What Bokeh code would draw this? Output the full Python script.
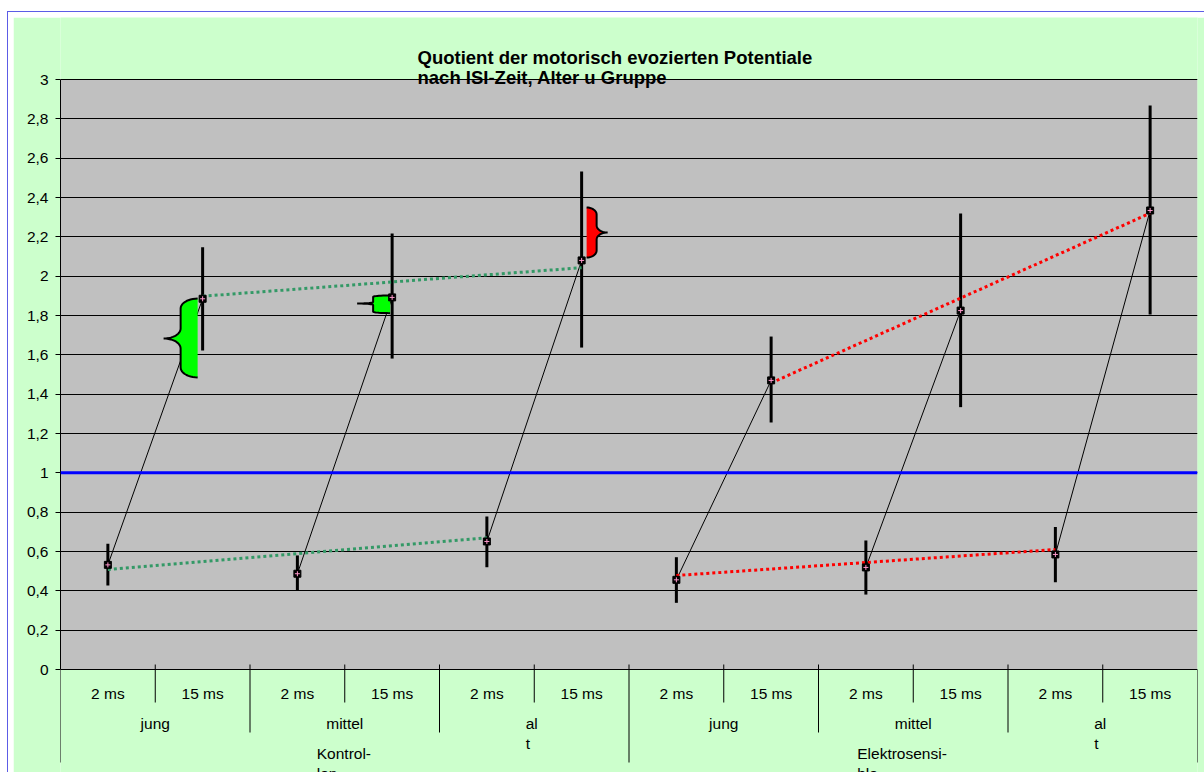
import numpy as np
from bokeh.plotting import figure
from bokeh.models import Range1d, FixedTicker, Span, Label, CustomJSTickFormatter
from bokeh.core.properties import value
from bokeh.embed import file_html
from bokeh.resources import INLINE

# ---------------- data ----------------
groups = ["Kontrollen"] * 6 + ["Elektrosensible"] * 6
ages = ["jung", "jung", "mittel", "mittel", "alt", "alt"] * 2
isi = ["2 ms", "15 ms"] * 6

means = [0.532, 1.885, 0.487, 1.892, 0.651, 2.080,
         0.456, 1.470, 0.519, 1.825, 0.585, 2.334]
err_high = [0.639, 2.147, 0.580, 2.217, 0.778, 2.532,
            0.571, 1.693, 0.656, 2.319, 0.724, 2.868]
err_low = [0.427, 1.622, 0.402, 1.581, 0.520, 1.637,
           0.339, 1.256, 0.381, 1.334, 0.444, 1.805]

# category axis texts (as wrapped in the axis cells)
isi_labels = ["2 ms", "15 ms"] * 6
age_labels = ["jung", "mittel", "al\nt", "jung", "mittel", "al\nt"]
group_labels = ["Kontrol-\nlen", "Elektrosensi-\nble"]

# linear trends per group / ISI (start category, end category, values)
trend_start_cat = [0, 1, 6, 7]
trend_end_cat = [4, 5, 10, 11]
trend_start_val = [0.508, 1.898, 0.478, 1.457]
trend_end_val = [0.670, 2.043, 0.610, 2.320]
trend_colors = ["#339966", "#339966", "#FF0000", "#FF0000"]

reference_level = 1.0

# brace marks next to single points (category, top, bottom, tip)
brace_cat = [1, 3, 5]
brace_top = [1.886, 1.902, 2.349]
brace_bottom = [1.485, 1.812, 2.095]
brace_tip = [1.683, 1.861, 2.222]
brace_fill = ["#00FF00", "#00FF00", "#FF0000"]

y_ticks = [round(0.2 * i, 1) for i in range(16)]

# ---------------- layout ----------------
FIG_W, FIG_H = 1191, 755          # green chart area
FRAME_LEFT, FRAME_RIGHT = 47, 7   # border widths inside the chart area
PX_X = (FIG_W - FRAME_LEFT - FRAME_RIGHT) / 12.0   # pixels per category
PX_Y = 590 / 3.0                                   # pixels per unit of y
AXIS_FROM_BOTTOM = 103                              # px from bottom to y = 0
AXIS_FROM_TOP = FIG_H - AXIS_FROM_BOTTOM           # px from top to y = 0

y_lo = -AXIS_FROM_BOTTOM / PX_Y
y_hi = AXIS_FROM_TOP / PX_Y

FONT = value("Liberation Sans")
GREEN_BG = "#CCFFCC"

p = figure(width=FIG_W, height=FIG_H, x_range=Range1d(0, 12), y_range=Range1d(y_lo, y_hi),
           output_backend="svg", toolbar_location=None, title=None,
           x_axis_location=None,
           min_border_left=FRAME_LEFT, min_border_right=FRAME_RIGHT,
           min_border_top=0, min_border_bottom=0,
           background_fill_color=GREEN_BG, border_fill_color=GREEN_BG,
           outline_line_color=None)
p.margin = (17, 0, 0, 13)
p.styles = {"outline": "1px solid #5C5CE6", "outline-offset": "5px"}

# plot area
p.quad(left=0, right=12, bottom=y_ticks[0], top=y_ticks[-1],
       fill_color="#C0C0C0", line_color=None, level="image")

p.xgrid.visible = False
p.ygrid.ticker = FixedTicker(ticks=y_ticks)
p.ygrid.grid_line_color = "black"
p.ygrid.grid_line_width = 1

yax = p.yaxis[0]
yax.ticker = FixedTicker(ticks=y_ticks)
yax.bounds = (y_ticks[0], y_ticks[-1])
yax.formatter = CustomJSTickFormatter(
    code="return (Math.round(tick * 10) / 10).toString().replace('.', ',');")
yax.axis_line_color = "black"
yax.major_tick_line_color = "black"
yax.major_tick_out = 5
yax.major_tick_in = 0
yax.minor_tick_line_color = None
yax.major_label_standoff = 7
yax.major_label_text_font = "Liberation Sans"
yax.major_label_text_font_size = "15.5px"
yax.major_label_text_color = "black"

# category separators below the axis
px = 1.0 / PX_Y
sep_x0, sep_y0, sep_y1 = [], [], []
for b in range(13):
    if b % 6 == 0:
        depth = 93
    elif b % 2 == 0:
        depth = 63
    else:
        depth = 33
    start = 0 if b in (0, 12) else 5
    sep_x0.append(b)
    sep_y0.append(start * px)
    sep_y1.append(-depth * px)
p.segment(x0=sep_x0, y0=sep_y0, x1=sep_x0, y1=sep_y1, line_color="black", line_width=1)

xc = np.arange(12) + 0.5
age_xc = (xc[0::2] + xc[1::2]) / 2
group_xc = np.array([age_xc[:3].mean(), age_xc[3:].mean()])

text_kw = dict(text_font=FONT, text_font_size="15.5px", text_color="black",
               text_baseline="middle")
p.text(x=xc, y=[-24 * px] * 12, text=isi_labels, text_align="center", **text_kw)

single_age = [i for i, t in enumerate(age_labels) if "\n" not in t]
wrapped_age = [i for i, t in enumerate(age_labels) if "\n" in t]
p.text(x=age_xc[single_age], y=[-54 * px] * len(single_age),
       text=[age_labels[i] for i in single_age], text_align="center", **text_kw)
for i in wrapped_age:
    for k, line in enumerate(age_labels[i].split("\n")):
        p.text(x=[age_xc[i]], y=[(-54 - 20 * k) * px], text=[line], text_align="left",
               x_offset=-8.5, **text_kw)

group_shift = [-28, -56]
for g, lab in enumerate(group_labels):
    for k, line in enumerate(lab.split("\n")):
        p.text(x=[group_xc[g]], y=[(-84 - 20 * k) * px], text=[line], text_align="left",
               x_offset=group_shift[g], **text_kw)

# error bars
p.segment(x0=xc, y0=err_low, x1=xc, y1=err_high, line_color="black", line_width=3)

# thin lines from 2 ms to 15 ms within each age group
m = np.array(means)
p.segment(x0=xc[0::2], y0=m[0::2], x1=xc[1::2], y1=m[1::2], line_color="black", line_width=1)

# dotted trend lines
p.segment(x0=xc[trend_start_cat], y0=trend_start_val, x1=xc[trend_end_cat], y1=trend_end_val,
          line_color=trend_colors, line_width=3, line_dash="3 3")


# braces
def brace(x_edge, top, bottom, tip, side, w_px, t_px, r_px):
    w = w_px / PX_X * side
    t = t_px / PX_X * side
    r = min(r_px, (top - bottom) * PX_Y / 4.0) / PX_Y
    rt = r
    th = np.linspace(0, np.pi / 2, 12)
    xs_, ys_ = [], []
    # top arc
    xs_ += list(x_edge + w * np.sin(th)); ys_ += list(top - r + r * np.cos(th))
    xs_spine = x_edge + w
    x_tip = xs_spine + t
    # down to tip, arc outward and back
    xs_ += list(x_tip - t * np.cos(th)); ys_ += list(tip + rt * (1 - np.sin(th)))
    xs_ += list(x_tip - t * np.sin(th)); ys_ += list(tip - rt * (1 - np.cos(th)))
    # bottom arc
    xs_ += list(x_edge + w * np.cos(th)); ys_ += list(bottom + r * (1 - np.sin(th)))
    return xs_, ys_


# (side, gap to point px, body width px, tip length px, corner radius px)
brace_geom = [(-1, 5, 17, 17, 10), (-1, 2, 17, 16, 1.5), (1, 5, 10, 11, 7)]
bxs, bys = [], []
for i, c in enumerate(brace_cat):
    side, gap, w_px, t_px, r_px = brace_geom[i]
    x_edge = xc[c] + side * gap / PX_X
    bx, by = brace(x_edge, brace_top[i], brace_bottom[i], brace_tip[i], side, w_px, t_px, r_px)
    bxs.append(bx)
    bys.append(by)
p.patches(xs=bxs, ys=bys, fill_color=brace_fill, line_color=None)
p.multi_line(xs=bxs, ys=bys, line_color="black", line_width=2)

# point markers
p.scatter(xc, means, marker="square", size=7, fill_color="black", line_color="black")
p.scatter(xc, means, marker="cross", size=5, line_color="#FF99CC", line_width=1)

# reference line
p.add_layout(Span(location=reference_level, dimension="width", line_color="#0000FF", line_width=3))

# title
title_kw = dict(x_units="screen", y_units="screen", text_font="Liberation Sans",
                text_font_size="18.5px", text_font_style="bold", text_color="black",
                text_align="left", text_baseline="alphabetic")
p.add_layout(Label(x=357, y=FIG_H - 40, text="Quotient der motorisch evozierten Potentiale", **title_kw))
p.add_layout(Label(x=357, y=FIG_H - 60, text="nach ISI-Zeit, Alter u Gruppe", **title_kw))

open("out.html", "w").write(file_html(p, INLINE))
